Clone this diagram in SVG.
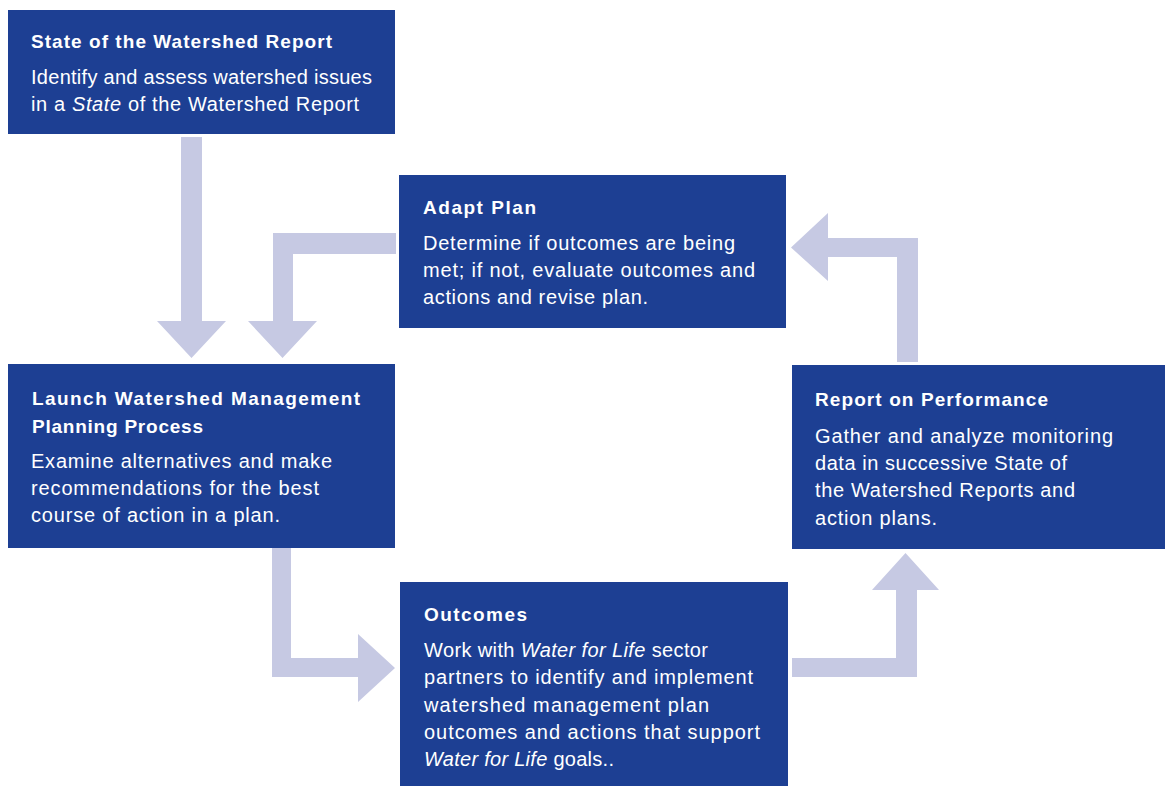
<svg xmlns="http://www.w3.org/2000/svg" width="1165" height="786" viewBox="0 0 1165 786">
<style>
.box{fill:#1d3f93}
.arr{fill:#c6c9e3}
text{font-family:"Liberation Sans",Arial,sans-serif;fill:#ffffff}
.t{font-size:19px;font-weight:bold}
.b{font-size:20px}
.i{font-style:italic}
</style>
<rect width="1165" height="786" fill="#ffffff"/>
<g id="connectors">
<polygon class="arr" points="181,137 202,137 202,321 226,321 191.5,358 157,321 181,321"/>
<polygon class="arr" points="396,233 396,254 293,254 293,321 317,321 282.5,358 248,321 273,321 273,233"/>
<polygon class="arr" points="897,362 918,362 918,238 828,238 828,213 791,247.5 828,281 828,257 897,257"/>
<polygon class="arr" points="272,548 291,548 291,658 358,658 358,634 395,668 358,702 358,677 272,677"/>
<polygon class="arr" points="792,658 896,658 896,590 872,590 905.5,553 939,590 917,590 917,677 792,677"/>
</g>
<g id="state-report">
<rect class="box" x="8" y="10" width="387" height="124"/>
<text class="t" x="31" y="47.5" textLength="301">State of the Watershed Report</text>
<text class="b" x="31" y="84" textLength="341">Identify and assess watershed issues</text>
<text class="b" x="31" y="111" textLength="328">in a <tspan class="i">State</tspan> of the Watershed Report</text>
</g>
<g id="adapt-plan">
<rect class="box" x="399" y="175" width="387" height="153"/>
<text class="t" x="423" y="214" textLength="113">Adapt Plan</text>
<text class="b" x="423" y="250" textLength="312">Determine if outcomes are being</text>
<text class="b" x="423" y="277" textLength="332">met; if not, evaluate outcomes and</text>
<text class="b" x="423" y="304" textLength="225">actions and revise plan.</text>
</g>
<g id="launch">
<rect class="box" x="8" y="364" width="387" height="184"/>
<text class="t" x="32" y="405" textLength="328">Launch Watershed Management</text>
<text class="t" x="32" y="432.5" textLength="171">Planning Process</text>
<text class="b" x="31" y="467.5" textLength="301">Examine alternatives and make</text>
<text class="b" x="31" y="495" textLength="288">recommendations for the best</text>
<text class="b" x="31" y="522" textLength="249">course of action in a plan.</text>
</g>
<g id="report-performance">
<rect class="box" x="792" y="365" width="373" height="184"/>
<text class="t" x="815" y="405.5" textLength="233">Report on Performance</text>
<text class="b" x="815" y="442.5" textLength="298">Gather and analyze monitoring</text>
<text class="b" x="815" y="469.5" textLength="252">data in successive State of</text>
<text class="b" x="815" y="497" textLength="260">the Watershed Reports and</text>
<text class="b" x="815" y="525" textLength="122">action plans.</text>
</g>
<g id="outcomes">
<rect class="box" x="400" y="582" width="388" height="204"/>
<text class="t" x="424" y="620.5" textLength="103">Outcomes</text>
<text class="b" x="424" y="656.5" textLength="284">Work with <tspan class="i">Water for Life</tspan> sector</text>
<text class="b" x="424" y="684" textLength="329">partners to identify and implement</text>
<text class="b" x="424" y="711.5" textLength="285">watershed management plan</text>
<text class="b" x="424" y="738.5" textLength="336">outcomes and actions that support</text>
<text class="b" x="424" y="765.5" textLength="190"><tspan class="i">Water for Life</tspan> goals..</text>
</g>
</svg>
